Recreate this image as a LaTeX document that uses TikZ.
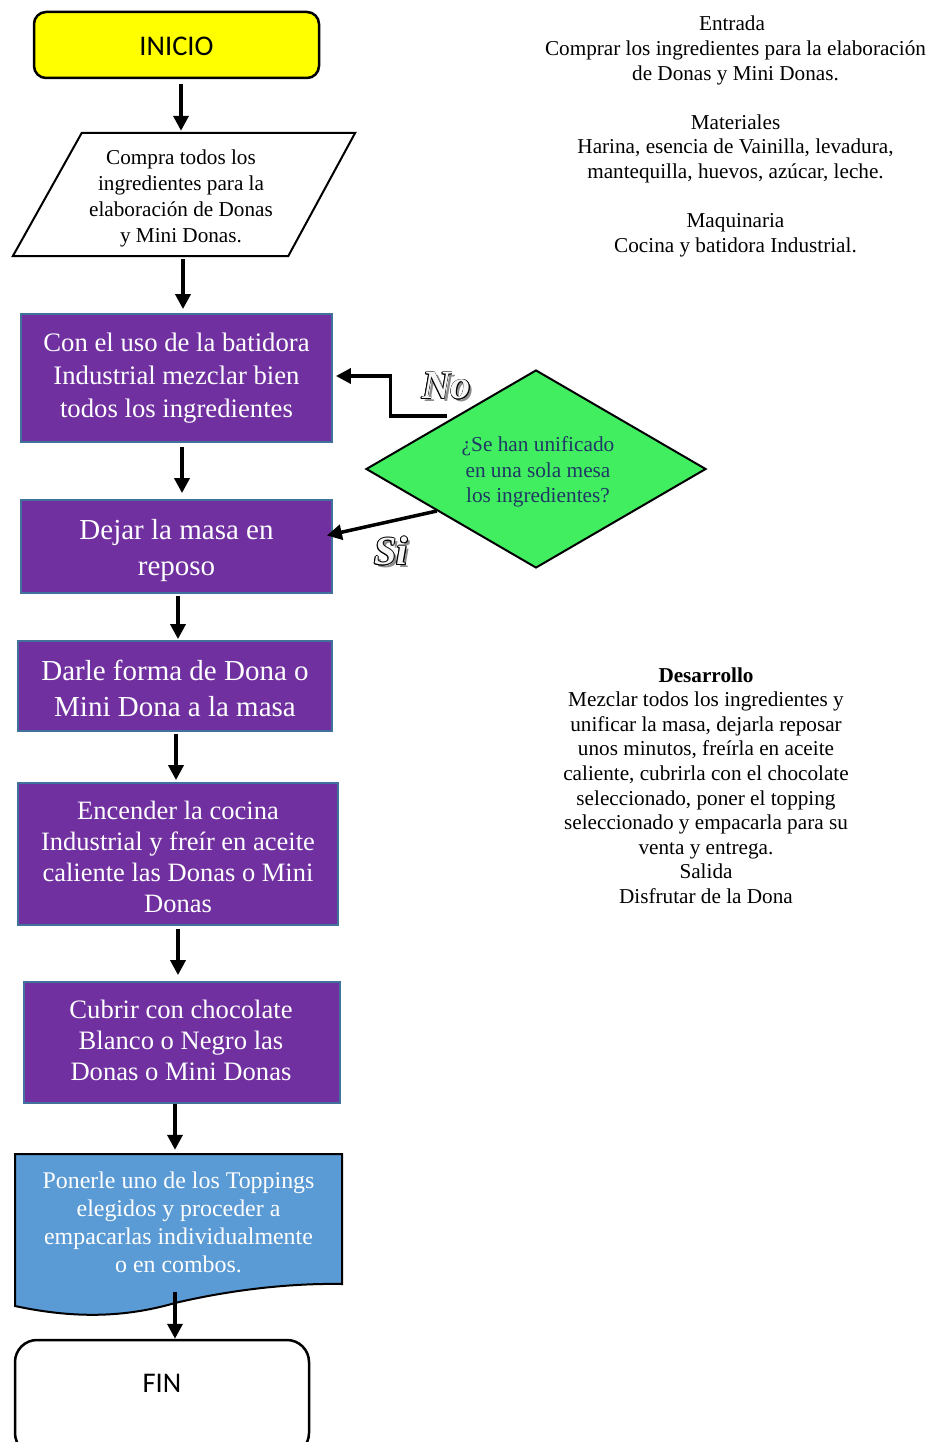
\documentclass[tikz,border=0pt]{standalone}
\usepackage{fontspec}
\setmainfont{Liberation Serif}
\newfontfamily\labelfont{Carlito}
\usetikzlibrary{arrows.meta,shapes.geometric,calc}

\definecolor{doPurple}{RGB}{112,48,160}
\definecolor{doEdge}{RGB}{65,113,156}
\definecolor{doBlue}{RGB}{91,155,213}
\definecolor{doGreen}{RGB}{64,238,96}
\definecolor{doNavy}{RGB}{31,56,100}
\definecolor{doYellow}{RGB}{255,255,0}
\definecolor{doFace}{RGB}{246,246,246}

\begin{document}
\begin{tikzpicture}[x=1pt,y=-1pt,
  flow/.style={line width=3.5pt,-{Triangle[length=15pt,width=15pt]}},
  procbox/.style={draw=doEdge,line width=1.8pt,fill=doPurple,text=white,
    align=center,inner sep=0pt},
  terminal/.style={draw=black,line width=2.5pt,rounded corners=12pt,
    inner sep=0pt},
  sidetext/.style={align=center,inner sep=0pt,
    font=\fontsize{21.2}{24.6}\selectfont},
  artfont/.style={font=\fontsize{40}{40}\selectfont\bfseries\itshape,inner sep=0pt},
  artface/.style={artfont,text=doFace},
  artedge/.style={artfont,text=black},
  artshadow/.style={artfont,text=black!45}]

\clip (0,0) rectangle (940,1442);
\fill[white] (0,0) rectangle (940,1442);

% start terminal
\node[terminal,fill=doYellow,minimum width=285pt,minimum height=66pt]
  (inicio) at (176.5,45) {};
\node[font=\labelfont\fontsize{28.5}{30}\selectfont] (inicioText) at (176.5,46) {INICIO};

% input parallelogram
\node[align=center,inner sep=0pt,minimum width=342pt,minimum height=123pt] (datos) at (184,194.5) {};
\draw[line width=2pt,fill=white]
  ($(datos.north west)+(69,0)$) -- (datos.north east)
  -- ($(datos.south east)+(-67,0)$) -- (datos.south west) -- cycle;
\node[align=center,inner sep=0pt,font=\fontsize{21.2}{26}\selectfont]
  (datosText) at (181,198.5) {Compra todos los\\ ingredientes para la\\
  elaboración de Donas\\ y Mini Donas.};

% process steps
\node[procbox,minimum width=311pt,minimum height=128pt,
  font=\fontsize{26.7}{33}\selectfont] (p1) at (176.5,378)
  {Con el uso de la batidora\\ Industrial mezclar bien\\ todos los ingredientes};
\node[procbox,minimum width=311pt,minimum height=93pt] (p2) at (176.5,546.5) {};
\node[align=center,inner sep=0pt,text=white,
  font=\fontsize{29}{36}\selectfont] (p2Text) at (176.5,550.5)
  {Dejar la masa en\\ reposo};
\node[procbox,minimum width=314pt,minimum height=90pt] (p3) at (175,686) {};
\node[align=center,inner sep=0pt,text=white,
  font=\fontsize{29}{36}\selectfont] (p3Text) at (175,688)
  {Darle forma de Dona o\\ Mini Dona a la masa};
\node[procbox,minimum width=320pt,minimum height=142pt] (p4) at (178,854) {};
\node[align=center,inner sep=0pt,text=white,
  font=\fontsize{26.5}{31}\selectfont] (p4Text) at (178,857)
  {Encender la cocina\\ Industrial y freír en aceite\\ caliente las Donas o Mini\\ Donas};
\node[procbox,minimum width=316pt,minimum height=121pt] (p5) at (182,1042.5) {};
\node[align=center,inner sep=0pt,text=white,
  font=\fontsize{26.6}{31}\selectfont] (p5Text) at (181,1040)
  {Cubrir con chocolate\\ Blanco o Negro las\\ Donas o Mini Donas};

% document shape
\draw[line width=2pt,fill=doBlue]
  (15,1154) -- (342,1154) -- (342,1284)
  .. controls (290,1283) and (230,1290) .. (175,1303)
  .. controls (130,1316) and (80,1320) .. (15,1306) -- cycle;
\node[align=center,inner sep=0pt,text=white,minimum width=327pt,
  minimum height=136pt,font=\fontsize{23.9}{28}\selectfont] (doc) at (178.5,1222)
  {Ponerle uno de los Toppings\\ elegidos y proceder a\\
  empacarlas individualmente\\ o en combos.};

% end terminal
\node[terminal,fill=white,rounded corners=22pt,minimum width=294pt,
  minimum height=115pt] (fin) at (162,1397.5) {};
\node[font=\labelfont\fontsize{28.5}{30}\selectfont] (finText) at (162,1383) {FIN};

% decision
\node[diamond,draw=black,line width=2pt,fill=doGreen,aspect=1.717,
  minimum width=340pt,minimum height=198pt,inner sep=0pt] (decision) at (536,469) {};
\node[align=center,inner sep=0pt,text=doNavy,
  font=\fontsize{21.3}{25.5}\selectfont] (decisionText) at (538,472)
  {¿Se han unificado\\ en una sola mesa\\ los ingredientes?};

% connectors
\draw[flow] ($(inicio.south)+(4.5,5)$) -- ($(datos.north)+(-3,-2)$);
\draw[flow] ($(datos.south)+(-1,3)$) -- ($(p1.north)+(6.5,-4)$);
\draw[flow] ($(p1.south)+(5.5,4)$) -- ($(p2.north)+(5.5,-6)$);
\draw[flow] ($(p2.south)+(1.5,2)$) -- ($(p3.north)+(3,-1)$);
\draw[flow] ($(p3.south)+(1,2)$) -- ($(p4.north)+(-2,-2)$);
\draw[flow] ($(p4.south)+(0,3)$) -- ($(p5.north)+(-4,-6)$);
\draw[flow] ($(p5.south)+(-7,0)$) -- ($(doc.north)+(-3.5,-4)$);
\draw[flow] ($(doc.south)+(-3.5,2)$) -- ($(fin.north)+(13,0)$);
\draw[flow] ($(decision.north west)+(-4,-3)$) -- ++(-56,0) |- ($(p1.east)+(3,-2)$);
\draw[flow] ($(decision.west)!0.42!(decision.south)$) -- ($(p2.east)+(-6,-11)$);

% branch labels: drop shadow, black outline, light face
\node[artshadow] (noShadow) at (449.5,389) {No};
\foreach \dx/\dy in {0.9/0,-0.9/0,0/0.9,0/-0.9,0.65/0.65,-0.65/0.65,0.65/-0.65,-0.65/-0.65}
  \node[artedge] at ($(446.5,386)+(\dx,\dy)$) {No};
\node[artface] (noLabel) at (446.5,386) {No};
\node[artshadow] (siShadow) at (394,554) {Si};
\foreach \dx/\dy in {0.9/0,-0.9/0,0/0.9,0/-0.9,0.65/0.65,-0.65/0.65,0.65/-0.65,-0.65/-0.65}
  \node[artedge] at ($(391,551)+(\dx,\dy)$) {Si};
\node[artface] (siLabel) at (391,551) {Si};

% side notes
\node[sidetext] (entrada) at (735.5,136.5)
  {Entrada\hspace*{7pt}\\ Comprar los ingredientes para la elaboración\hspace*{-8pt}\\
  de Donas y Mini Donas.\hspace*{9pt}\\ \mbox{}\\ Materiales\hspace*{9pt}\\
  Harina, esencia de Vainilla, levadura,\hspace*{-3pt}\\
  mantequilla, huevos, azúcar, leche.\hspace*{8pt}\\ \mbox{}\\ Maquinaria\hspace*{-3pt}\\
  Cocina y batidora Industrial.};
\node[sidetext] (desarrollo) at (706,785.5)
  {\textbf{Desarrollo}\\ Mezclar todos los ingredientes y\\
  unificar la masa, dejarla reposar\\ unos minutos, freírla en aceite\\
  caliente, cubrirla con el chocolate\\ seleccionado, poner el topping\\
  seleccionado y empacarla para su\\ venta y entrega.\\ Salida\\
  Disfrutar de la Dona};
\end{tikzpicture}
\end{document}
